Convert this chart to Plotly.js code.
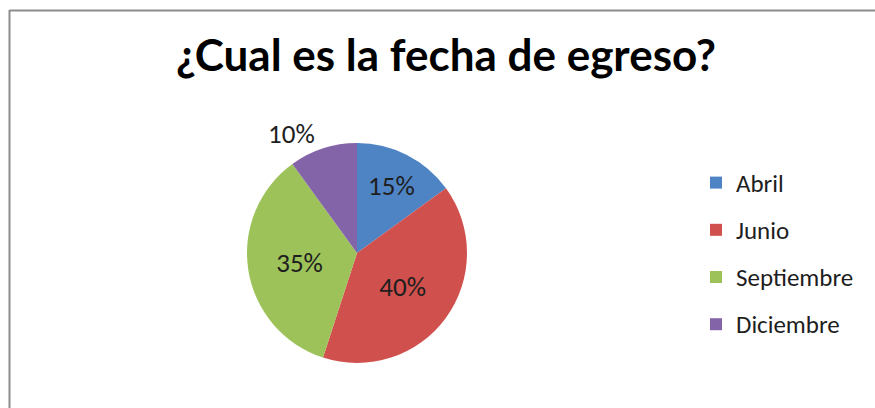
<!DOCTYPE html>
<html>
<head>
<meta charset="utf-8">
<script src="https://cdn.plot.ly/plotly-3.0.1.min.js"></script>
<style>
html,body{margin:0;padding:0;background:#ffffff;}
#chart{width:875px;height:408px;}
</style>
</head>
<body>
<div id="chart"></div>
<script>
var categories = ['Abril', 'Junio', 'Septiembre', 'Diciembre'];
var values = [15, 40, 35, 10];
var sliceColors = ['#4f84c4', '#d0504d', '#9dc25a', '#8364a8'];
var labelPositions = ['inside', 'inside', 'inside', 'outside'];
var titleText = '¿Cual es la fecha de egreso?';

var legendLabels = categories.map(function (c) {
  return '<span style="font-size:25px;baseline-shift:4px">' + c + '</span>';
});

var trace = {
  type: 'pie',
  labels: legendLabels,
  values: values,
  sort: false,
  direction: 'clockwise',
  rotation: 0,
  marker: { colors: sliceColors, line: { width: 0 } },
  textinfo: 'percent',
  textposition: labelPositions,
  insidetextorientation: 'horizontal',
  textfont: { family: 'Carlito, Lato, sans-serif', size: 27, color: '#1e1e1e' },
  outsidetextfont: { family: 'Carlito, Lato, sans-serif', size: 27, color: '#1e1e1e' },
  domain: { x: [247 / 875, 467 / 875], y: [1 - 363 / 408, 1 - 143 / 408] },
  hoverinfo: 'label+percent'
};

var layout = {
  width: 875,
  height: 408,
  margin: { l: 0, r: 0, t: 0, b: 0 },
  paper_bgcolor: '#ffffff',
  plot_bgcolor: '#ffffff',
  title: {
    text: '<b>' + titleText + '</b>',
    font: { family: 'Lato, Carlito, sans-serif', size: 44, color: '#000000' },
    x: 446 / 875,
    xanchor: 'center',
    xref: 'container',
    y: 1 - 56 / 408,
    yanchor: 'middle',
    yref: 'container'
  },
  showlegend: true,
  legend: {
    x: 696 / 875,
    xanchor: 'left',
    y: 1 - 154 / 408,
    yanchor: 'top',
    bgcolor: 'rgba(0,0,0,0)',
    font: { family: 'Carlito, Lato, sans-serif', size: 34, color: '#1e1e1e' },
    traceorder: 'normal'
  },
  shapes: [
    { type: 'line', xref: 'paper', yref: 'paper', x0: 9.5 / 875, x1: 9.5 / 875, y0: 0, y1: 1 - 10 / 408, line: { color: '#8c8c8c', width: 2 } },
    { type: 'line', xref: 'paper', yref: 'paper', x0: 9.5 / 875, x1: 1, y0: 1 - 10.5 / 408, y1: 1 - 10.5 / 408, line: { color: '#8c8c8c', width: 2 } }
  ]
};

Plotly.newPlot('chart', [trace], layout, { displayModeBar: false, staticPlot: true });
</script>
</body>
</html>
